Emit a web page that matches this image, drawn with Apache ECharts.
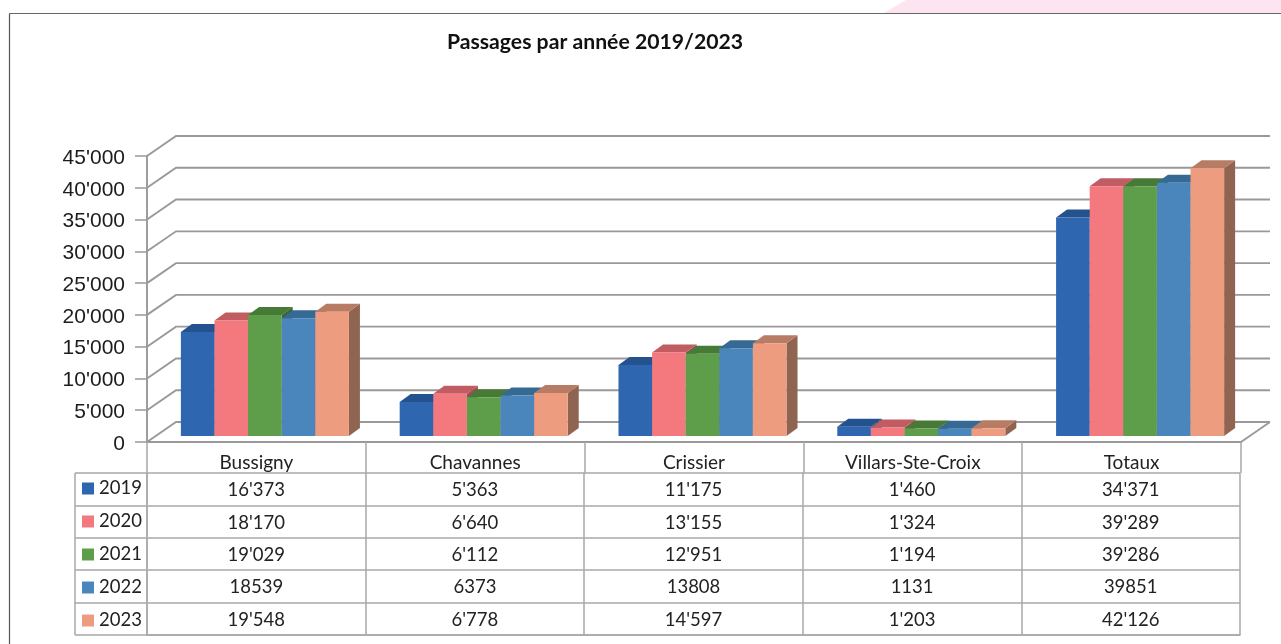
<!DOCTYPE html>
<html><head><meta charset="utf-8">
<style>html,body{margin:0;padding:0;background:#fff}#c{width:1281px;height:644px}</style>
<script src="https://cdn.jsdelivr.net/npm/echarts@6/dist/echarts.min.js"></script>
</head><body><div id="c"></div>
<script>
const categories = ['Bussigny','Chavannes','Crissier','Villars-Ste-Croix','Totaux'];
const years = ['2019','2020','2021','2022','2023'];
const values2019 = [16373,5363,11175,1460,34371];
const values2020 = [18170,6640,13155,1324,39289];
const values2021 = [19029,6112,12951,1194,39286];
const values2022 = [18539,6373,13808,1131,39851];
const values2023 = [19548,6778,14597,1203,42126];
const yTicks = [0,5000,10000,15000,20000,25000,30000,35000,40000,45000];
const yearsWithoutSeparator = ['2022'];

const allValues = [values2019,values2020,values2021,values2022,values2023];
const frontColors = ['#2e66b0','#f4797f','#5e9e4a','#4a86bc','#ee9c80'];
const topColors   = ['#24528f','#c05c62','#467a36','#366a94','#b87c64'];
const sideColors  = ['#1f4578','#a04e52','#3b672e','#2d5a7e','#8f6450'];
const FONT = 'Lato';
const withSep = v => String(v).replace(/\B(?=(\d{3})+$)/g, "'");

const WALL_DX = 29, WALL_DY = 20, BAR_DX = 8.5, BAR_DY = 6, DEPTH_X = 11, DEPTH_Y = 8;
const BAR_SHARE = 0.1536;

const chart = echarts.init(document.getElementById('c'));

function wallItem(params, api) {
  const v = api.value(1);
  const a = api.coord([0, v]);
  const halfBand = api.size([1,0])[0] / 2;
  const x0 = a[0] - halfBand, y = a[1];
  const right = api.coord([categories.length - 1, v])[0] + halfBand;
  const lineStyle = {stroke:'#999', lineWidth:1.9, fill:null};
  const children = [{
    type:'polyline',
    shape:{points:[[x0,y],[x0+WALL_DX,y-WALL_DY],[right+WALL_DX,y-WALL_DY]]},
    style:lineStyle
  }];
  if (v === 0) children.push({type:'line',
    shape:{x1:right,y1:y,x2:right+WALL_DX,y2:y-WALL_DY}, style:lineStyle});
  return {type:'group', children};
}

function barItem(yearIdx) {
  return function (params, api) {
    const cat = api.value(0), val = api.value(1);
    const band = api.size([1,0])[0];
    const w = band * BAR_SHARE;
    const base = api.coord([cat, 0]);
    const top = api.coord([cat, val]);
    const x = base[0] + BAR_DX - w * 2.5 + yearIdx * w;
    const yb = base[1] - BAR_DY, yt = top[1] - BAR_DY;
    return {type:'group', children:[
      {type:'polygon', shape:{points:[[x+w,yt],[x+w+DEPTH_X,yt-DEPTH_Y],[x+w+DEPTH_X,yb-DEPTH_Y],[x+w,yb]]},
        style:{fill:sideColors[yearIdx]}},
      {type:'polygon', shape:{points:[[x,yt],[x+DEPTH_X,yt-DEPTH_Y],[x+w+DEPTH_X,yt-DEPTH_Y],[x+w,yt]]},
        style:{fill:topColors[yearIdx]}},
      {type:'rect', shape:{x:x,y:yt,width:w,height:yb-yt}, style:{fill:frontColors[yearIdx]}}
    ]};
  };
}

const cellData = [];
years.forEach((yr,r) => categories.forEach((c,k) => cellData.push([k, r, allValues[r][k]])));

function cellItem(params, api) {
  const k = api.value(0), r = api.value(1), v = api.value(2);
  const p = api.coord([k, r]);
  const plain = yearsWithoutSeparator.includes(years[r]);
  return {type:'text', x:p[0], y:p[1]+1, style:{
    text: plain ? String(v) : withSep(v),
    font:'18.5px '+FONT, fill:'#222', align:'center', verticalAlign:'middle'}};
}

const series = [{
  type:'custom', name:'walls', xAxisIndex:0, yAxisIndex:0, silent:true, z:1,
  encode:{x:0,y:1},
  data: yTicks.map(t => [0,t]), renderItem: wallItem
}];
years.forEach((yr,i) => series.push({
  type:'custom', name:yr, xAxisIndex:0, yAxisIndex:0, z:2+i,
  itemStyle:{color:frontColors[i]},
  encode:{x:0,y:1},
  data: allValues[i].map((v,k)=>[k,v]), renderItem: barItem(i)
}));
series.push({
  type:'custom', name:'table', xAxisIndex:1, yAxisIndex:1, silent:true, z:10,
  encode:{x:0,y:1},
  data: cellData, renderItem: cellItem
});

const tableLine = {color:'#a8a8a8', width:1.5};

chart.setOption({
  animation:false,
  backgroundColor:'#fff',
  title:{text:'Passages par année 2019/2023', left:590, top:27, textAlign:'center',
    textStyle:{fontFamily:FONT,fontWeight:'bold',fontSize:21.2,color:'#111'}},
  legend:{data:years, orient:'vertical', left:82, top:479, padding:0, itemWidth:12, itemHeight:12, itemGap:14,
    icon:'rect', selectedMode:false, textStyle:{fontFamily:FONT,fontSize:18.5,color:'#222'}},
  grid:[
    {left:147,right:40,top:156,bottom:202},
    {left:147,right:41,top:473,bottom:9}
  ],
  xAxis:[
    {type:'category',gridIndex:0,data:categories,
      axisLine:{lineStyle:{color:'#999',width:2.2}},
      axisTick:{show:true,length:31,lineStyle:tableLine},
      axisLabel:{fontFamily:FONT,fontSize:19,color:'#222',margin:11}},
    {type:'category',gridIndex:1,data:categories,
      axisLine:{show:true,lineStyle:tableLine},axisTick:{show:false},axisLabel:{show:false},
      splitLine:{show:true,lineStyle:tableLine}}
  ],
  yAxis:[
    {type:'value',gridIndex:0,min:0,max:45000,interval:5000,
      axisLine:{show:true,lineStyle:{color:'#999',width:1.9}},
      axisTick:{show:true,length:12,lineStyle:{color:'#999',width:1.5}},
      splitLine:{show:false},
      axisLabel:{formatter:v=>'{t|'+withSep(v)+'}',margin:22,
        rich:{t:{fontFamily:'Liberation Sans',fontSize:21,color:'#1c1c1c',padding:[4,0,0,0]}}}},
    {type:'category',gridIndex:1,data:years,inverse:true,
      axisLine:{show:true,lineStyle:tableLine},
      axisTick:{show:true,length:72,lineStyle:tableLine},
      axisLabel:{show:false},
      splitLine:{show:true,lineStyle:tableLine}}
  ],
  graphic:[
    {type:'polygon',silent:true,z:-1,shape:{points:[[906,0],[1281,0],[1281,13],[884,13]]},style:{fill:'#fce4f0'}},
    {type:'line',silent:true,shape:{x1:9.5,y1:13.5,x2:1281,y2:13.5},style:{stroke:'#666',lineWidth:1.2}},
    {type:'line',silent:true,shape:{x1:9.5,y1:13.5,x2:9.5,y2:644},style:{stroke:'#555',lineWidth:1.2}},
    {type:'line',silent:true,shape:{x1:75,y1:473,x2:75,y2:635},style:{stroke:'#a8a8a8',lineWidth:1.5}}
  ],
  series
});
</script></body></html>
